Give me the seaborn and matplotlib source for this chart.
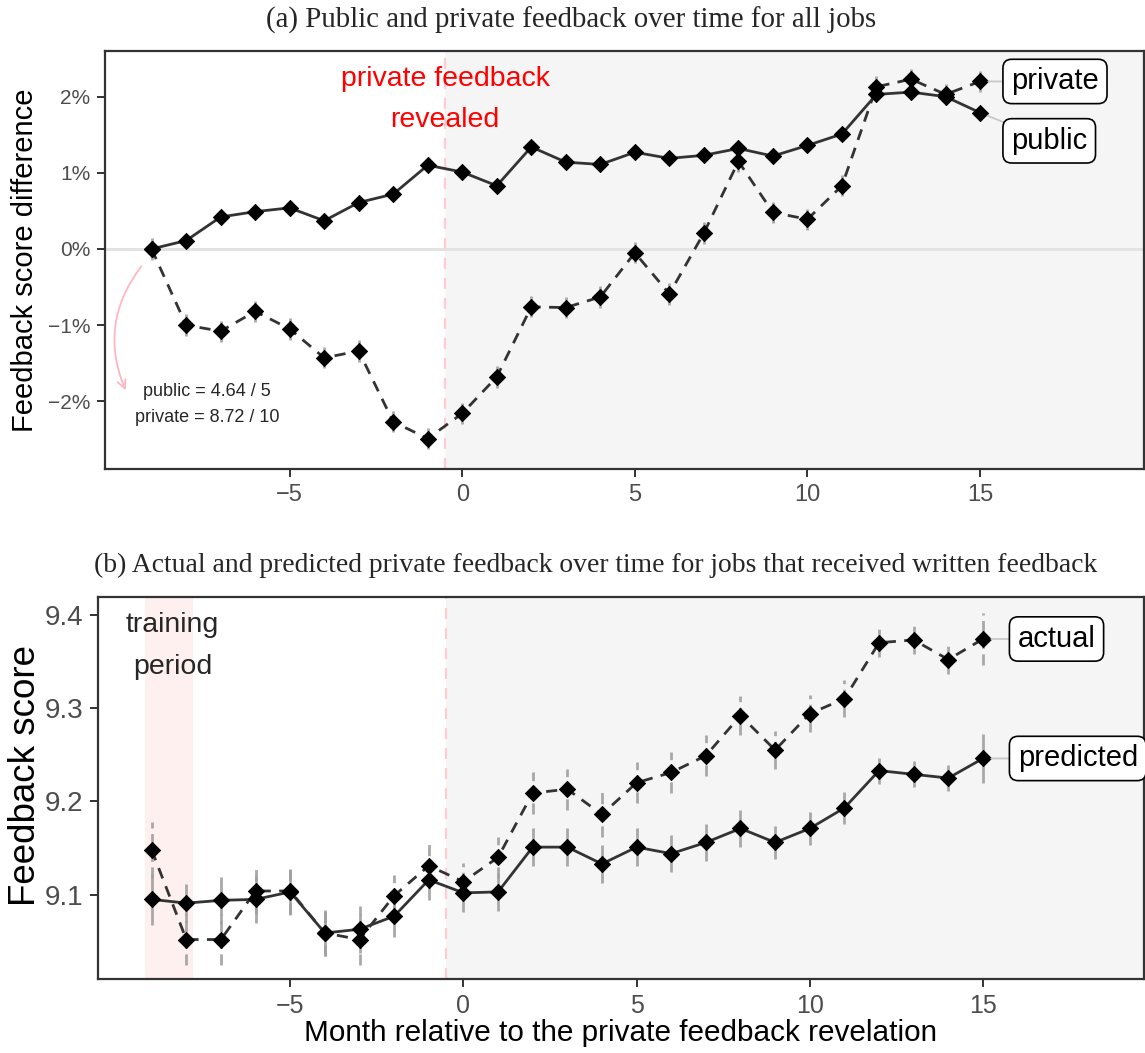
import numpy as np
import pandas as pd
import matplotlib
matplotlib.use("Agg")
import matplotlib.pyplot as plt
import seaborn as sns
from matplotlib.patches import FancyArrowPatch
from matplotlib.ticker import FuncFormatter

# ---------------- data ----------------
months = list(range(-9, 16))

public_diff = [0.00, 0.11, 0.42, 0.49, 0.54, 0.37, 0.61, 0.72, 1.10, 1.01, 0.83, 1.34, 1.14,
               1.11, 1.27, 1.19, 1.23, 1.32, 1.22, 1.36, 1.51, 2.03, 2.06, 2.00, 1.79]
private_diff = [0.00, -1.00, -1.08, -0.82, -1.05, -1.43, -1.34, -2.27, -2.49, -2.16, -1.68, -0.76, -0.77,
                -0.63, -0.05, -0.59, 0.21, 1.15, 0.48, 0.39, 0.83, 2.13, 2.23, 2.03, 2.20]
public_err = [0.08, 0.06, 0.06, 0.06, 0.06, 0.06, 0.06, 0.06, 0.06, 0.06, 0.06, 0.06, 0.06,
              0.06, 0.06, 0.06, 0.06, 0.06, 0.06, 0.06, 0.06, 0.06, 0.06, 0.06, 0.06]
private_err = [0.15, 0.14, 0.14, 0.14, 0.14, 0.14, 0.14, 0.14, 0.14, 0.14, 0.14, 0.14, 0.14,
               0.14, 0.14, 0.14, 0.14, 0.14, 0.14, 0.14, 0.14, 0.14, 0.14, 0.14, 0.14]

predicted = [9.095, 9.091, 9.094, 9.095, 9.103, 9.059, 9.063, 9.077, 9.116, 9.102, 9.103, 9.151, 9.151,
             9.133, 9.151, 9.144, 9.156, 9.171, 9.156, 9.171, 9.193, 9.233, 9.229, 9.225, 9.246]
actual = [9.148, 9.052, 9.052, 9.104, 9.104, 9.059, 9.052, 9.099, 9.131, 9.114, 9.140, 9.209, 9.213,
          9.186, 9.220, 9.231, 9.249, 9.292, 9.255, 9.294, 9.310, 9.370, 9.373, 9.352, 9.374]
predicted_err = [0.027, 0.020, 0.025, 0.025, 0.025, 0.025, 0.025, 0.022, 0.022, 0.020, 0.020, 0.020, 0.020,
                 0.020, 0.020, 0.020, 0.020, 0.020, 0.018, 0.018, 0.017, 0.014, 0.014, 0.014, 0.026]
actual_err = [0.030, 0.027, 0.027, 0.025, 0.025, 0.025, 0.027, 0.022, 0.025, 0.020, 0.022, 0.022, 0.022,
              0.024, 0.022, 0.022, 0.022, 0.021, 0.020, 0.020, 0.020, 0.015, 0.015, 0.015, 0.028]

top_series = ["public", "private"]
bottom_series = ["predicted", "actual"]
top_yticks = [-2, -1, 0, 1, 2]
bottom_yticks = [9.1, 9.2, 9.3, 9.4]
xticks = [-5, 0, 5, 10, 15]

title_a = "(a) Public and private feedback over time for all jobs"
title_b = "(b) Actual and predicted private feedback over time for jobs that received written feedback"

# ---------------- style ----------------
sns.set_theme(style="white")
plt.rcParams["font.family"] = ["Liberation Sans", "DejaVu Sans"]
plt.rcParams["axes.unicode_minus"] = True

W, H = 1145, 1053
fig = plt.figure(figsize=(W / 100, H / 100), dpi=100)

def frac(l, t, r, b):
    return [l / W, 1 - b / H, (r - l) / W, (b - t) / H]

ax1 = fig.add_axes(frac(105, 51, 1144, 469))
ax2 = fig.add_axes(frac(98, 597, 1144, 979))

LINE_C = "#333333"
ERR_C = "#a0a0a0"
SHADE = "#F5F5F5"
PINK_LINE = "#FFCCD2"

def style_axes(ax):
    for s in ax.spines.values():
        s.set_color(LINE_C)
        s.set_linewidth(1.6)
    ax.tick_params(axis="both", direction="out", length=6, width=1.4, color=LINE_C,
                   labelcolor="#4D4D4D", left=True, bottom=True, pad=4.5)
    ax.grid(False)

def draw_panel(ax, df, names, errs, dashed_name, label_pos):
    ax.axvspan(-0.5, 30, color=SHADE, zorder=0, lw=0)
    ax.axvline(-0.5, color=PINK_LINE, lw=1.6, ls=(0, (5, 4)), zorder=1)
    for name, err in zip(names, errs):
        sub = df[df.series == name]
        ax.vlines(sub.month, sub.value - np.array(err), sub.value + np.array(err),
                  color=ERR_C, lw=2.0, alpha=0.9, zorder=2,
                  linestyles=(0, (4, 2)) if name == dashed_name else "solid")
    sns.lineplot(data=df, x="month", y="value", style="series",
                 dashes={n: ((4, 3) if n == dashed_name else "") for n in names},
                 color=LINE_C, lw=2.0, legend=False, ax=ax, zorder=3)
    sns.scatterplot(data=df, x="month", y="value", marker="D", color="black",
                    edgecolor="black", s=68, legend=False, ax=ax, zorder=4)
    for name in names:
        sub = df[df.series == name]
        lx, ly = label_pos[name]
        ax.annotate(name, xy=(sub.month.iloc[-1], sub.value.iloc[-1]), xytext=(lx, ly),
                    fontsize=21, color="black", ha="left", va="center",
                    bbox=dict(boxstyle="round,pad=0.28,rounding_size=0.3", fc="white", ec="black", lw=1.2),
                    arrowprops=dict(arrowstyle="-", color="#C8C8C8", lw=1.3, shrinkA=0, shrinkB=6),
                    zorder=5)

# ---------------- panel (a) ----------------
df_top = pd.DataFrame({
    "month": months * 2,
    "value": public_diff + private_diff,
    "series": ["public"] * len(months) + ["private"] * len(months),
})
ax1.axhline(0, color="#E3E3E3", lw=2.2, zorder=1)
draw_panel(ax1, df_top, top_series, [public_err, private_err], "private",
           {"private": (15.9, 2.20), "public": (15.9, 1.42)})
ax1.set_xlim(-10.35, 19.75)
ax1.set_ylim(-2.89, 2.60)
ax1.set_yticks(top_yticks)
ax1.yaxis.set_major_formatter(FuncFormatter(lambda v, p: f"{v:.0f}%".replace("-", "\u2212")))
ax1.set_xticks(xticks)
ax1.xaxis.set_major_formatter(FuncFormatter(lambda v, p: f"{v:.0f}".replace("-", "\u2212")))
style_axes(ax1)
ax1.tick_params(axis="y", labelsize=15)
ax1.tick_params(axis="x", labelsize=17)
ax1.set_xlabel("")
ax1.set_ylabel("Feedback score difference", fontsize=21, color="black")
ax1.yaxis.set_label_coords(-0.0635, 0.5)

ax1.text(-0.5, 1.96, "private feedback\nrevealed", color="red", fontsize=20.5,
         ha="center", va="center", linespacing=1.74, zorder=5)
ax1.text(-7.4, -1.87, "public = 4.64 / 5", fontsize=13, ha="center", va="center", zorder=5)
ax1.text(-7.4, -2.22, "private = 8.72 / 10", fontsize=13, ha="center", va="center", zorder=5)
arr = FancyArrowPatch((-9.25, -0.2), (-9.72, -1.89), connectionstyle="arc3,rad=0.3",
                      arrowstyle="->,head_length=6,head_width=3", color="#FFB6C1", lw=1.3,
                      zorder=5)
ax1.add_patch(arr)

# ---------------- panel (b) ----------------
df_bot = pd.DataFrame({
    "month": months * 2,
    "value": predicted + actual,
    "series": ["predicted"] * len(months) + ["actual"] * len(months),
})
ax2.axvspan(-9.2, -7.8, color="#FFF0F0", zorder=0, lw=0)
draw_panel(ax2, df_bot, bottom_series, [predicted_err, actual_err], "actual",
           {"actual": (16.0, 9.374), "predicted": (16.0, 9.246)})
ax2.set_xlim(-10.55, 19.65)
ax2.set_ylim(9.0097, 9.419)
ax2.set_yticks(bottom_yticks)
ax2.yaxis.set_major_formatter(FuncFormatter(lambda v, p: f"{v:.1f}"))
ax2.set_xticks(xticks)
ax2.xaxis.set_major_formatter(FuncFormatter(lambda v, p: f"{v:.0f}".replace("-", "\u2212")))
style_axes(ax2)
ax2.tick_params(axis="x", labelsize=18)
ax2.tick_params(axis="y", labelsize=20)
ax2.set_xlabel("Month relative to the private feedback revelation", fontsize=21.4, color="black", labelpad=1)
ax2.set_ylabel("Feedback score", fontsize=26.5, color="black")
ax2.yaxis.set_label_coords(-0.053, 0.534)
ax2.text(-8.4, 9.366, "training\nperiod", fontsize=20.5, ha="center", va="center",
         linespacing=1.8, zorder=5)

# ---------------- titles ----------------
fig.text(571 / W, 1 - 20 / H, title_a, fontsize=20.8, family=["Liberation Serif", "DejaVu Serif"],
         ha="center", va="center")
fig.text(596 / W, 1 - 565 / H, title_b, fontsize=19.9, family=["Liberation Serif", "DejaVu Serif"],
         ha="center", va="center")

fig.savefig("out.png", dpi=100)
